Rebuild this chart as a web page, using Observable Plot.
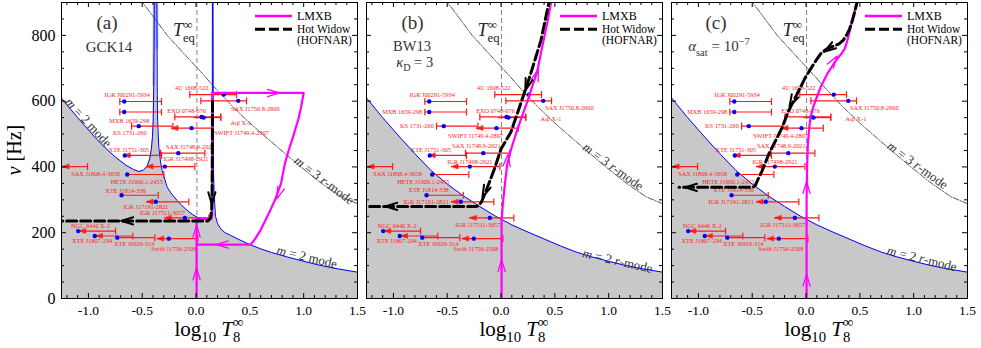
<!DOCTYPE html>
<html><head><meta charset="utf-8">
<script src="https://cdn.jsdelivr.net/npm/d3@7"></script>
<script src="https://cdn.jsdelivr.net/npm/@observablehq/plot@0.6"></script>
<style>
body{margin:0;background:#fff;}
#wrap{position:relative;width:981px;height:348px;overflow:hidden;background:#fff;font-family:'Liberation Serif','DejaVu Serif',serif;}
#wrap svg, #wrap svg text{font-family:'Liberation Serif','DejaVu Serif',serif !important;}
</style></head><body><div id="wrap"></div>
<script>
// ---------------- data ----------------
const xMajorTicks = [-1.0, -0.5, 0.0, 0.5, 1.0, 1.5];
const xMinorTicks = [-1.2,-1.1,-0.9,-0.8,-0.7,-0.6,-0.4,-0.3,-0.2,-0.1,0.1,0.2,0.3,0.4,0.6,0.7,0.8,0.9,1.1,1.2,1.3,1.4];
const yMajorTicks = [0, 200, 400, 600, 800];
const yMinorTicks = [50,100,150,250,300,350,450,500,550,650,700,750,850];

const sourceNames = ["IGR J00291-5934","MXB 1659-298","KS 1731-260","SWIFT J1749.4-2807","EXO 0748-676","Aql X-1","4U 1608-522","SAX J1750.8-2900","SAX J1748.9-2021","XTE J1751-305","SAX J1808.4-3658","IGR J17498-2921","HETE J1900.1-2455","XTE J1814-338","IGR J17191-2821","IGR J17511-3057","NGC 6440 X-2","XTE J1807-294","XTE J0929-314","Swift J1756-2508"];
const sourceNu = [599,567,524,518,552,550,620,601,442,435,401,401,377,314,294,245,205,190,185,182];
const sourceLogT = [-0.667,-0.667,-0.532,-0.042,0.051,0.07,0.258,0.392,-0.165,-0.662,null,-0.29,-0.639,-0.692,-0.374,-0.104,-1.095,-0.941,-0.732,-0.253];
const sourceLogTLow = [-0.708,-0.708,-0.599,-0.228,-0.197,-0.02,-0.058,0.045,-0.330,-0.672,-1.24,-0.46,-0.639,-0.692,-0.46,-0.29,-1.085,-0.93,-0.732,-0.361];
const sourceLogTHigh = [-0.321,-0.321,-0.215,0.160,0.230,0.230,0.376,0.469,0.082,-0.321,-1.008,-0.011,-0.299,-0.351,-0.067,0.119,-0.748,-0.587,-0.383,0.017];
const sourceLowKind = ["cap","cap","cap","arrow","cap","none","cap","cap","cap","arrow","arrow","arrow","none","none","arrow","arrow","arrow","arrow","none","arrow"];

// r-mode instability curves  [log10 T8, nu]
const m2CurveGCK14 = [[-1.25,609],[-1.1,550],[-0.95,494],[-0.85,460],[-0.75,430],[-0.65,405],[-0.58,392],[-0.53,386],[-0.49,390],[-0.455,402],[-0.43,425],[-0.415,455],[-0.405,490],[-0.398,541],[-0.393,650],[-0.39,780],[-0.388,900],[-0.386,960],
 [-0.366,960],[-0.364,900],[-0.362,760],[-0.36,620],[-0.357,541],[-0.346,460],[-0.33,415],[-0.314,389],[-0.268,338],[-0.22,315],[-0.175,298],[-0.13,282],[-0.082,268],[-0.035,256],[0.011,247],[0.06,243],[0.11,241],[0.135,242],[0.145,247],[0.149,280],[0.151,450],[0.152,900],[0.153,960],
 [0.157,960],[0.158,900],[0.16,500],[0.163,380],[0.168,320],[0.173,290],[0.181,250],[0.2,228],[0.228,212],[0.27,200],[0.32,192],[0.4,179],[0.507,163],[0.6,151],[0.7,140],[0.85,126],[1.0,113],[1.15,101],[1.3,91],[1.5,80]];
const m2CurveBW13 = [[-1.25,610],[-1.1,550],[-0.95,494],[-0.8,440],[-0.65,389],[-0.5,348],[-0.35,312],[-0.2,280],[-0.05,250],[0.1,224],[0.25,202],[0.4,181],[0.55,160],[0.7,141],[0.85,126],[1.0,113],[1.15,101],[1.3,91],[1.5,80]];
const m3Curve = [[-0.52,910],[-0.4,858],[-0.268,800],[-0.1,740],[0.042,690],[0.2,632],[0.351,580],[0.5,533],[0.662,487],[0.8,448],[0.971,401],[1.15,354],[1.343,310],[1.5,288]];

// evolution tracks [log10 T8, nu]
const lmxbTrackA = [[0.005,0],[0.005,242],[0.14,242],[0.15,255],[0.15,625],[1.0,625],[0.975,580],[0.95,545],[0.9,490],[0.86,450],[0.825,410],[0.79,350],[0.74,305],[0.69,268],[0.6,208],[0.54,177],[0.507,164],[0.005,164]];
const hotWidowTrackA = [[0.153,600],[0.151,420],[0.149,320],[0.145,270],[0.135,245],[0.11,236],[-1.25,236]];
const lmxbTrackB = [[0.005,0],[0.005,237],[0.015,280],[0.026,318],[0.04,360],[0.058,409],[0.09,450],[0.135,497],[0.19,550],[0.243,597],[0.29,645],[0.336,690],[0.37,745],[0.405,800],[0.44,855],[0.47,910]];
const hotWidowTrackB = [[0.46,920],[0.445,900],[0.37,784],[0.275,683],[0.18,590],[0.09,505],[0.0,455],[-0.06,395],[-0.13,335],[-0.18,295],[-0.205,282],[-0.23,280],[-1.25,280]];
const lmxbTrackC = [[0.005,0],[0.005,300],[0.01,400],[0.017,470],[0.03,520],[0.042,551],[0.065,580],[0.088,602],[0.135,642],[0.197,683],[0.25,710],[0.29,729],[0.33,745],[0.36,760],[0.38,780],[0.4,805],[0.425,840],[0.45,872],[0.48,910]];
const hotWidowTrackC = [[0.48,910],[0.455,875],[0.43,845],[0.405,820],[0.384,805],[0.345,785],[0.306,774],[0.228,764],[0.18,756],[0.135,744],[0.073,714],[-0.005,673],[-0.083,622],[-0.16,572],[-0.221,521],[-0.283,480],[-0.345,440],[-0.407,389],[-0.45,360],[-0.47,345],[-0.49,339],[-0.52,338],[-1.18,338]];

// direction arrows on tracks [log10 T8, nu, heading in degrees clockwise from up]
const lmxbArrowsA = [[0.005,75,0],[0.005,205,0],[0.72,625,90],[0.77,320,201],[0.243,164,270]];
const hotWidowArrowsA = [[0.147,305,180],[-0.64,236,270]];
const lmxbArrowsB = [[0.005,100,0],[0.058,420,7],[0.33,680,18]];
const hotWidowArrowsB = [[0.243,650,198],[-0.15,325,204],[-1.02,280,270]];
const lmxbArrowsC = [[0.005,56,0],[0.005,338,0],[0.258,722,34]];
const hotWidowArrowsC = [[0.214,760,237],[-0.128,600,207],[-1.07,338,270]];

const tEq = [0.008, 0.004, 0.005];

// label placement of source names [dx px, dy px, anchor]
const labelOffsetsA = [[3,-7,"middle"],[5,8.5,"middle"],[-9,7,"middle"],[50,5,"middle"],[-15,-6.4,"middle"],[27,5.6,"start"],[-32,-6.7,"middle"],[17,7.7,"middle"],[12,-6.6,"middle"],[4,-5.7,"middle"],[8,7.6,"middle"],[21,-8,"middle"],[9.6,7.7,"middle"],[4,-4,"middle"],[-10,5.4,"middle"],[-22.6,-5.4,"middle"],[12.3,-5.6,"middle"],[-2.5,4.5,"middle"],[17,6,"middle"],[5,10.6,"middle"]];
const labelOffsetsBC = [[3,-7,"middle"],[-7,0,"end"],[-10,0,"end"],[-21,8,"middle"],[-11,-6,"middle"],[32,1,"start"],[-35,-7,"middle"],[26,7.5,"middle"],[-7,-7,"middle"],[1,-5.5,"middle"],[5,7.6,"middle"],[0,-4.5,"middle"],[-9,7.7,"middle"],[2,-5,"middle"],[-12,0,"end"],[-12,7,"middle"],[14,-5.6,"middle"],[-3,4.5,"middle"],[16,6,"middle"],[2,10.5,"middle"]];

// curve labels (text centres)
const curveLabelsA = [{text:"m = 2 mode",x:-1.0,y:535,rotate:47.5},{text:"m = 2 mode",x:1.03,y:126,rotate:14},{text:"m = 3 r-mode",x:1.19,y:359,rotate:37}];
const curveLabelsB = [{text:"m = 2 r-mode",x:1.083,y:114,rotate:13},{text:"m = 3 r-mode",x:1.04,y:401,rotate:36}];
const curveLabelsC = [{text:"m = 2 r-mode",x:1.076,y:121,rotate:14},{text:"m = 3 r-mode",x:1.036,y:405,rotate:36}];

const legendLabels = ["LMXB", "Hot Widow", "(HOFNAR)"];

// ---------------- drawing ----------------
const FONT = "'Liberation Serif', 'DejaVu Serif', serif";
const RED = "#ff1a1a";
const SVGNS = "http://www.w3.org/2000/svg";

const capShape = {draw(ctx, l) { ctx.moveTo(0, -l / 2); ctx.lineTo(0, l / 2); }};
const limitArrowShape = {draw(ctx, l) { ctx.moveTo(0, 0); ctx.lineTo(-l * 0.36, l); ctx.lineTo(l * 0.36, l); ctx.closePath(); }};
const chevronShape = {draw(ctx, l) { ctx.moveTo(-l * 0.3, l / 2); ctx.lineTo(0, -l / 2); ctx.lineTo(l * 0.3, l / 2); }};

function appendRich(textEl, parts, fs, firstPos) {
  let shift = 0, first = true;
  for (const p of parts) {
    const ts = document.createElementNS(SVGNS, "tspan");
    if (first && firstPos) { ts.setAttribute("x", firstPos[0]); ts.setAttribute("y", firstPos[1]); }
    let target = 0, size = fs;
    if (p.sub) { target = 0.3 * fs; size = 0.7 * fs; }
    if (p.sup) { target = -0.42 * fs; size = 0.7 * fs; }
    if (target !== shift) ts.setAttribute("dy", (target - shift).toFixed(2));
    shift = target;
    ts.setAttribute("font-size", size);
    if (p.i) ts.setAttribute("font-style", "italic");
    if (p.dx) ts.setAttribute("dx", p.dx);
    ts.textContent = p.t;
    textEl.appendChild(ts);
    first = false;
  }
}
function fillRich(textEl, parts, fs) {
  while (textEl.firstChild) textEl.removeChild(textEl.firstChild);
  textEl.style.whiteSpace = "pre";
  appendRich(textEl, parts, fs, null);
}
const richMap = {
  "m = 2 mode": {fs: 13, parts: [{t:"m",i:true},{t:" = 2 mode"}]},
  "m = 2 r-mode": {fs: 13, parts: [{t:"m",i:true},{t:" = 2 "},{t:"r",i:true},{t:"-mode"}]},
  "m = 3 r-mode": {fs: 13, parts: [{t:"m",i:true},{t:" = 3 "},{t:"r",i:true},{t:"-mode"}]},
  "TEQ": {fs: 18, parts: [{t:"T",i:true},{t:"eq",sub:true},{t:"∞",sup:true,dx:-11.5}]}
};

const panels = [
  {key:"a", left:0, width:362, ml:61, mr:5, curve:m2CurveGCK14, lmxb:lmxbTrackA, hw:hotWidowTrackA, la:lmxbArrowsA, ha:hotWidowArrowsA, offsets:labelOffsetsA, teq:tEq[0], labels:curveLabelsA, showY:true},
  {key:"b", left:362, width:304, ml:4, mr:4, curve:m2CurveBW13, lmxb:lmxbTrackB, hw:hotWidowTrackB, la:lmxbArrowsB, ha:hotWidowArrowsB, offsets:labelOffsetsBC, teq:tEq[1], labels:curveLabelsB, showY:false},
  {key:"c", left:666, width:315, ml:5, mr:14, curve:m2CurveBW13, lmxb:lmxbTrackC, hw:hotWidowTrackC, la:lmxbArrowsC, ha:hotWidowArrowsC, offsets:labelOffsetsBC, teq:tEq[2], labels:curveLabelsC, showY:false}
];

const wrap = document.getElementById("wrap");
const X = d => d[0], Y = d => d[1];

for (const p of panels) {
  const fh = 296, fw = p.width - p.ml - p.mr;
  const src = sourceNames.map((name, i) => ({name, nu: sourceNu[i], t: sourceLogT[i], lo: sourceLogTLow[i], hi: sourceLogTHigh[i], kind: sourceLowKind[i], off: p.offsets[i]}));
  const marks = [];
  marks.push(Plot.areaY(p.curve, {x: X, y: Y, fill: "#c8c8c8", clip: true}));
  if (p.key === "a") marks.push(Plot.line(p.curve.filter(d => d[0] < 0 && d[1] > 640), {x: X, y: Y, stroke: "#6f8cff", strokeOpacity: 0.45, strokeWidth: 3, clip: true}));
  marks.push(Plot.line(p.curve, {x: X, y: Y, stroke: "#0000ff", strokeWidth: 1, clip: true}));
  marks.push(Plot.line(m3Curve, {x: X, y: Y, stroke: "#444", strokeWidth: 0.9, strokeDasharray: "6,1.5,1.2,1.5", clip: true}));
  marks.push(Plot.ruleX([p.teq], {x: d => d, stroke: "#777", strokeWidth: 0.9, strokeDasharray: "5,3"}));
  // sources
  marks.push(Plot.ruleY(src, {y: "nu", x1: "lo", x2: "hi", stroke: RED, strokeWidth: 1.2}));
  marks.push(Plot.vector(src, {x: "hi", y: "nu", length: 6, shape: capShape, anchor: "start", stroke: RED, strokeWidth: 1.2}));
  marks.push(Plot.vector(src.filter(d => d.kind === "cap"), {x: "lo", y: "nu", length: 6, shape: capShape, anchor: "start", stroke: RED, strokeWidth: 1.2}));
  marks.push(Plot.vector(src.filter(d => d.kind === "arrow"), {x: "lo", y: "nu", length: 6.5, rotate: 270, shape: limitArrowShape, anchor: "start", stroke: RED, fill: RED, strokeWidth: 0.6}));
  marks.push(Plot.dot(src.filter(d => d.t !== null), {x: "t", y: "nu", r: 2.2, fill: "#0000ff", stroke: "none"}));
  for (const d of src) {
    marks.push(Plot.text([d], {x: d => (d.t !== null ? d.t : d.hi), y: "nu", text: "name", dx: d.off[0], dy: d.off[1], textAnchor: d.off[2], fontSize: 6.3, fill: RED, fontFamily: FONT}));
  }
  // tracks
  marks.push(Plot.line(p.lmxb, {x: X, y: Y, stroke: "#ff00ff", strokeWidth: 2.2, clip: true}));
  marks.push(Plot.vector(p.la, {x: X, y: Y, rotate: d => d[2], length: 12, shape: chevronShape, anchor: "start", stroke: "#ff00ff", strokeWidth: 1.3}));
  marks.push(Plot.line(p.hw, {x: X, y: Y, stroke: "black", strokeWidth: 3, strokeDasharray: "10,4", clip: true}));
  marks.push(Plot.vector(p.ha, {x: X, y: Y, rotate: d => d[2], length: 12, shape: chevronShape, anchor: "start", stroke: "black", strokeWidth: 2}));
  // curve labels
  for (const l of p.labels) {
    marks.push(Plot.text([l], {x: "x", y: "y", text: "text", rotate: l.rotate, fontSize: 13, fill: "#333", fontFamily: FONT}));
  }
  marks.push(Plot.text([p.teq], {x: d => d, frameAnchor: "top", dy: 21, dx: -2, textAnchor: "end", text: () => "TEQ", fontSize: 18, fill: "#222", fontFamily: FONT}));
  // frame & ticks
  marks.push(Plot.frame({stroke: "black", strokeWidth: 1}));
  marks.push(Plot.ruleX(xMajorTicks, {x: d => d, insetTop: fh - 5, stroke: "black"}));
  marks.push(Plot.ruleX(xMinorTicks, {x: d => d, insetTop: fh - 3, stroke: "black"}));
  marks.push(Plot.ruleX(xMajorTicks, {x: d => d, insetBottom: fh - 5, stroke: "black"}));
  marks.push(Plot.ruleX(xMinorTicks, {x: d => d, insetBottom: fh - 3, stroke: "black"}));
  marks.push(Plot.ruleY(yMajorTicks, {y: d => d, insetRight: fw - 5, stroke: "black"}));
  marks.push(Plot.ruleY(yMinorTicks, {y: d => d, insetRight: fw - 3, stroke: "black"}));
  marks.push(Plot.ruleY(yMajorTicks, {y: d => d, insetLeft: fw - 5, stroke: "black"}));
  marks.push(Plot.ruleY(yMinorTicks, {y: d => d, insetLeft: fw - 3, stroke: "black"}));
  marks.push(Plot.axisX(xMajorTicks, {tickSize: 0, tickPadding: 7, fontSize: 13.5, tickFormat: d => d.toFixed(1), label: null, fill: "black", fontFamily: FONT}));
  if (p.showY) marks.push(Plot.axisY(yMajorTicks, {tickSize: 0, tickPadding: 6, fontSize: 16, label: null, fill: "black", fontFamily: FONT}));

  const svg = Plot.plot({
    width: p.width, height: 348,
    marginTop: 2, marginBottom: 50, marginLeft: p.ml, marginRight: p.mr,
    x: {domain: [-1.25, 1.5]},
    y: {domain: [0, 900], axis: p.showY ? undefined : null},
    style: {background: "none", overflow: "visible", color: "black"},
    marks
  });
  svg.style.position = "absolute";
  svg.style.left = p.left + "px";
  svg.style.top = "0px";
  svg.setAttribute("font-family", FONT);

  svg.querySelectorAll("text").forEach(t => {
    const r = richMap[t.textContent];
    if (r) fillRich(t, r.parts, r.fs);
  });

  const g = d3.select(svg).append("g").attr("font-family", FONT).attr("text-anchor", "start");
  const addText = (lines, fs, anchor, fill, transform) => {
    const t = g.append("text").attr("font-size", fs).attr("text-anchor", anchor).attr("fill", fill).style("white-space", "pre");
    if (transform) t.attr("transform", transform);
    for (const ln of lines) appendRich(t.node(), ln.parts, fs, [ln.x, ln.y]);
  };
  const fx = p.ml;
  // legend
  g.append("line").attr("x1", fx + 194).attr("x2", fx + 231).attr("y1", 16).attr("y2", 16).attr("stroke", "#ff00ff").attr("stroke-width", 2.5);
  g.append("line").attr("x1", fx + 194).attr("x2", fx + 231).attr("y1", 29.3).attr("y2", 29.3).attr("stroke", "black").attr("stroke-width", 3).attr("stroke-dasharray", "10,4");
  addText([{x: fx + 236, y: 20, parts: [{t: legendLabels[0]}]}], 12, "start", "black");
  addText([{x: fx + 236, y: 33, parts: [{t: legendLabels[1]}]}, {x: fx + 236, y: 43.5, parts: [{t: legendLabels[2]}]}], 11.5, "start", "black");
  // panel tags
  if (p.key === "a") {
    addText([{x: fx + 46, y: 29, parts: [{t:"(a)"}]}], 19, "middle", "#333");
    addText([{x: fx + 48, y: 51.5, parts: [{t:"GCK14"}]}], 15, "middle", "#333");
  } else if (p.key === "b") {
    addText([{x: fx + 46.5, y: 29, parts: [{t:"(b)"}]}], 19, "middle", "#333");
    addText([{x: fx + 46, y: 50.5, parts: [{t:"BW13"}]}], 14.5, "middle", "#333");
    addText([{x: fx + 48.7, y: 66.5, parts: [{t:"κ",i:true},{t:"D",sub:true},{t:" = 3"}]}], 14.5, "middle", "#333");
  } else {
    addText([{x: fx + 45, y: 29, parts: [{t:"(c)"}]}], 19, "middle", "#333");
    addText([{x: fx + 48, y: 51, parts: [{t:"α",i:true},{t:"sat",sub:true},{t:" = 10"},{t:"−7",sup:true}]}], 15, "middle", "#333");
  }
  // axis titles
  addText([{x: fx + fw / 2, y: 336, parts: [{t:"log"},{t:"10",sub:true},{t:" "},{t:"T",i:true},{t:"8",sub:true},{t:"∞",sup:true,dx:-7.3}]}], 21, "middle", "black");
  if (p.showY) addText([{x: 0, y: 0, parts: [{t:"ν",i:true},{t:" [Hz]"}]}], 20, "middle", "black", "translate(21,150) rotate(-90)");

  wrap.appendChild(svg);
}
</script></body></html>
